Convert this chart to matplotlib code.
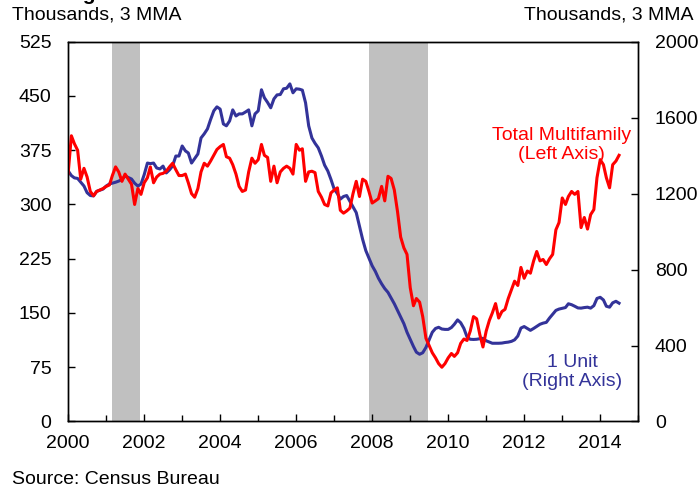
import pandas as pd
import matplotlib.pyplot as plt
import matplotlib.dates as mdates

plt.rcParams['font.family'] = ['Liberation Sans', 'DejaVu Sans']

# monthly, Jan 2000 - Jul 2014, thousands, 3 month moving average
multifamily = [
    343, 395, 384, 375, 335, 350, 338, 318, 312, 318, 320, 322,  # 2000
    325, 327, 340, 352, 345, 332, 342, 335, 328, 300, 322, 314,  # 2001
    330, 337, 352, 330, 338, 342, 343, 346, 352, 357, 348, 340,  # 2002
    340, 342, 330, 315, 310, 322, 345, 357, 353, 360, 368, 376,  # 2003
    380, 383, 366, 364, 355, 342, 325, 318, 320, 345, 364, 357,  # 2004
    362, 383, 368, 365, 332, 353, 330, 345, 350, 353, 350, 342,  # 2005
    383, 375, 377, 332, 345, 346, 344, 318, 310, 300, 298, 316,  # 2006
    320, 323, 292, 288, 291, 295, 315, 332, 311, 335, 332, 318,  # 2007
    302, 305, 308, 325, 305, 339, 336, 320, 290, 255, 240, 231,  # 2008
    185, 160, 170, 165, 145, 115, 105, 95, 88, 80, 75, 80,       # 2009
    88, 94, 90, 95, 108, 114, 112, 125, 145, 142, 120, 103,      # 2010
    125, 140, 150, 163, 143, 152, 155, 170, 182, 194, 188, 213,  # 2011
    198, 208, 205, 222, 235, 222, 224, 217, 225, 231, 265, 275,  # 2012
    309, 300, 311, 318, 314, 318, 268, 282, 266, 286, 293, 337,  # 2013
    362, 355, 337, 323, 355, 360, 368,                           # 2014
]
one_unit = [
    1320, 1295, 1283, 1280, 1260, 1240, 1205, 1190, 1188, 1212, 1218, 1224,
    1240, 1251, 1255, 1260, 1266, 1275, 1293, 1285, 1277, 1255, 1240, 1250,
    1300, 1361, 1358, 1361, 1335, 1330, 1345, 1309, 1325, 1346, 1398, 1398,
    1451, 1425, 1414, 1361, 1385, 1409, 1493, 1515, 1541, 1590, 1636, 1657,
    1645, 1567, 1557, 1583, 1641, 1609, 1620, 1620, 1630, 1641, 1557, 1620,
    1636, 1747, 1705, 1680, 1652, 1699, 1720, 1722, 1752, 1755, 1778, 1731,
    1752, 1750, 1745, 1678, 1557, 1493, 1465, 1441, 1398, 1350, 1319, 1275,
    1224, 1200, 1171, 1185, 1190, 1160, 1130, 1100, 1030, 960, 900, 860,
    820, 790, 755, 725, 700, 680, 650, 620, 585, 550, 515, 470,
    433, 395, 365, 354, 362, 390, 430, 470, 490, 496, 487, 485,
    485, 495, 512, 535, 520, 490, 445, 433, 432, 433, 436, 438,
    425, 418, 412, 412, 412, 413, 416, 418, 422, 430, 450, 492,
    500, 490, 480, 490, 501, 512, 518, 522, 545, 565, 585, 592,
    596, 600, 620, 615, 607, 598, 597, 600, 602, 597, 610, 648,
    654, 640, 607, 602, 625, 633, 623,
]
dates = pd.date_range('2000-01-01', periods=len(multifamily), freq='MS')

recessions = [('2001-03-01', '2001-11-25'), ('2007-11-28', '2009-06-25')]

left_ticks = [0, 75, 150, 225, 300, 375, 450, 525]
right_ticks = [0, 400, 800, 1200, 1600, 2000]

red = '#FF0000'
blue = '#333399'

fig = plt.figure(figsize=(6.99, 4.88), dpi=100)
ax = fig.add_axes([0.0975, 0.1363, 0.8155, 0.7782])
ax2 = ax.twinx()
ax.set_zorder(ax2.get_zorder() + 1)
ax.patch.set_visible(False)

for start, end in recessions:
    ax2.axvspan(pd.Timestamp(start), pd.Timestamp(end), color='#C0C0C0', lw=0, zorder=0)

ax2.plot(dates, one_unit, color=blue, lw=2.2)
ax.plot(dates, multifamily, color=red, lw=2.2)

ax.set_ylim(0, 525)
ax2.set_ylim(0, 2000)
ax.set_yticks(left_ticks)
ax2.set_yticks(right_ticks)
ax.set_xlim(pd.Timestamp('2000-01-01'), pd.Timestamp('2015-01-01'))

ax.xaxis.set_major_locator(mdates.YearLocator(2))
ax.xaxis.set_minor_locator(mdates.YearLocator(1))
ax.xaxis.set_major_formatter(mdates.DateFormatter('%Y'))

for a in (ax, ax2):
    a.tick_params(axis='both', which='both', direction='in', labelsize=14, width=1)
    a.tick_params(axis='both', which='major', length=5)
    a.tick_params(axis='both', which='minor', length=4)
    for s in a.spines.values():
        s.set_linewidth(1)
ax.tick_params(axis='y', pad=12)
ax2.tick_params(axis='y', pad=12)
ax.tick_params(axis='x', pad=10)

ax.text(0.866, 0.728, 'Total Multifamily\n(Left Axis)', transform=ax.transAxes,
        color=red, fontsize=14, ha='center', va='center', linespacing=1.1)
ax.text(0.884, 0.130, '1 Unit\n(Right Axis)', transform=ax.transAxes,
        color=blue, fontsize=14, ha='center', va='center', linespacing=1.2)

fig.text(12 / 699, 1.0, 'Housing Starts', fontsize=15, fontweight='bold', va='baseline')
fig.text(12 / 699, 1 - 15.5 / 488, 'Thousands, 3 MMA', fontsize=14, va='center')
fig.text(693 / 699, 1 - 15.5 / 488, 'Thousands, 3 MMA', fontsize=14, va='center', ha='right')
fig.text(12 / 699, 1 - 480 / 488, 'Source: Census Bureau', fontsize=14, va='center')

fig.savefig('out.png', dpi=100)
